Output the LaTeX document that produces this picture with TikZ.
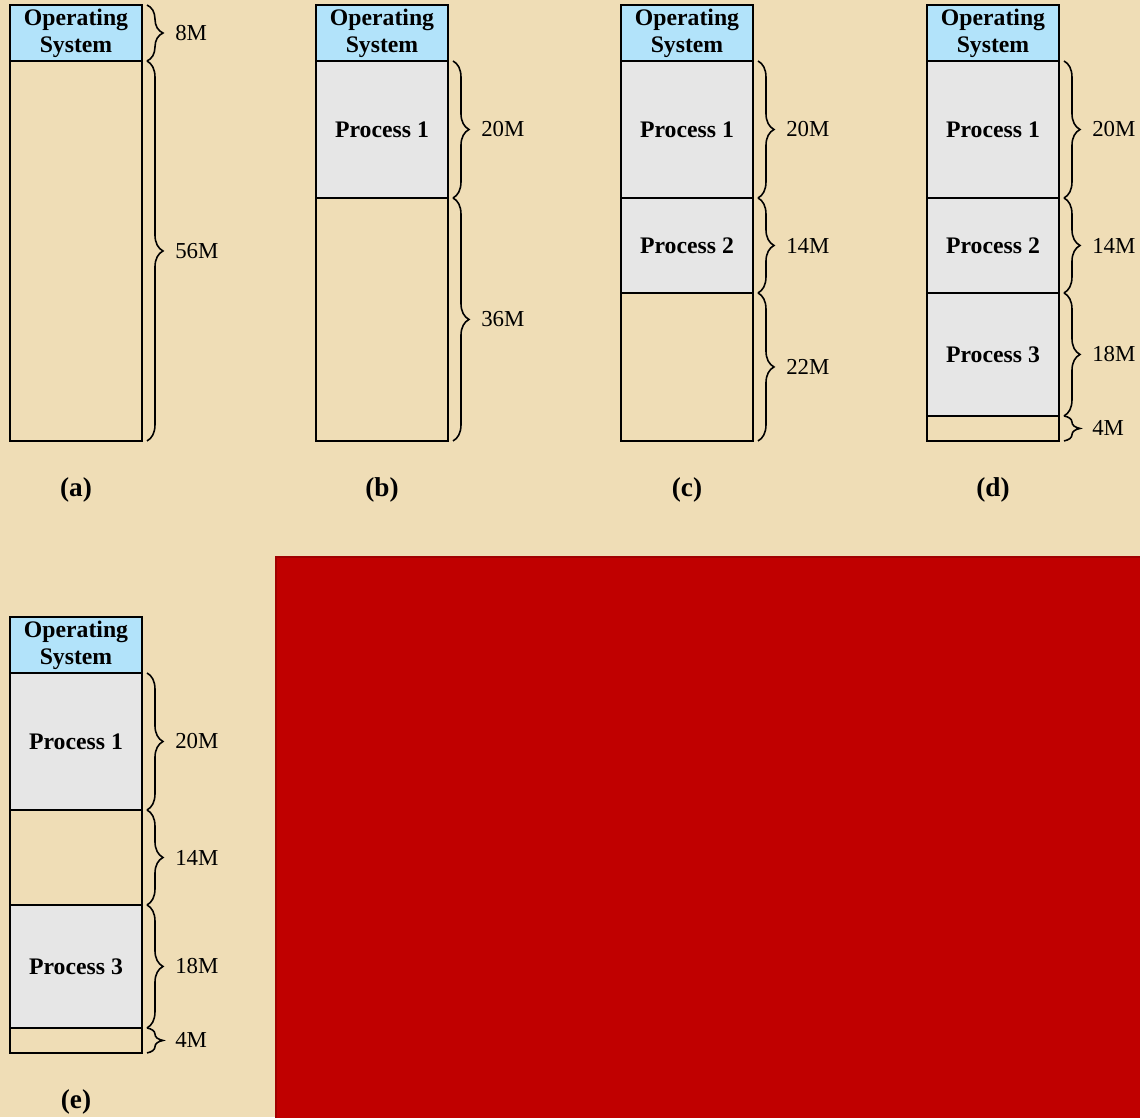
\documentclass[tikz,border=0pt]{standalone}
\usepackage{fontspec}
\setmainfont{Liberation Serif}
\usetikzlibrary{positioning, decorations.pathreplacing}
\definecolor{parchment}{RGB}{239,221,182}
\definecolor{osblue}{RGB}{178,227,250}
\definecolor{procgray}{RGB}{230,230,230}
\definecolor{blockred}{RGB}{192,0,0}
\definecolor{blockreddark}{RGB}{160,0,0}

\begin{document}
\begin{tikzpicture}[x=0.02cm, y=-0.02cm,
    region/.style={draw=black, line width=1.1pt, outer sep=0pt, inner sep=0pt,
                   minimum width=2.64cm, align=center,
                   font=\fontsize{13.5}{15.3}\selectfont\bfseries},
    osbox/.style={region, fill=osblue, minimum height=1.12cm},
    procbox/.style={region, fill=procgray},
    freebox/.style={region},
    brace/.style={decorate, decoration={brace, amplitude=0.32cm, raise=0.1cm},
                  line width=0.9pt},
    size/.style={right=0.65cm, inner sep=0pt, font=\fontsize{13}{14}\selectfont},
    caption/.style={font=\fontsize{15.5}{17}\selectfont\bfseries}]
    \useasboundingbox (0,0) rectangle (1140,1117);
    \fill[parchment] (0,0) rectangle (1140,1117);

    % (a)
    \node[osbox] (osa) at (76,33) {Operating\\System};
    \node[freebox, minimum height=7.6cm, below=0pt of osa] (freea) {};
    \draw[brace] (osa.north east) -- node[size] {8M} (osa.south east);
    \draw[brace] (freea.north east) -- node[size] {56M} (freea.south east);
    \node[caption] (capa) at (76,490) {(a)};

    % (b)
    \node[osbox] (osb) at (382,33) {Operating\\System};
    \node[procbox, minimum height=2.74cm, below=0pt of osb] (p1b) {Process 1};
    \node[freebox, minimum height=4.86cm, below=0pt of p1b] (freeb) {};
    \draw[brace] (p1b.north east) -- node[size] {20M} (p1b.south east);
    \draw[brace] (freeb.north east) -- node[size] {36M} (freeb.south east);
    \node[caption] (capb) at (382,490) {(b)};

    % (c)
    \node[osbox] (osc) at (687,33) {Operating\\System};
    \node[procbox, minimum height=2.74cm, below=0pt of osc] (p1c) {Process 1};
    \node[procbox, minimum height=1.9cm, below=0pt of p1c] (p2c) {Process 2};
    \node[freebox, minimum height=2.96cm, below=0pt of p2c] (freec) {};
    \draw[brace] (p1c.north east) -- node[size] {20M} (p1c.south east);
    \draw[brace] (p2c.north east) -- node[size] {14M} (p2c.south east);
    \draw[brace] (freec.north east) -- node[size] {22M} (freec.south east);
    \node[caption] (capc) at (687,490) {(c)};

    % (d)
    \node[osbox] (osd) at (993,33) {Operating\\System};
    \node[procbox, minimum height=2.74cm, below=0pt of osd] (p1d) {Process 1};
    \node[procbox, minimum height=1.9cm, below=0pt of p1d] (p2d) {Process 2};
    \node[procbox, minimum height=2.46cm, below=0pt of p2d] (p3d) {Process 3};
    \node[freebox, minimum height=0.5cm, below=0pt of p3d] (freed) {};
    \draw[brace] (p1d.north east) -- node[size] {20M} (p1d.south east);
    \draw[brace] (p2d.north east) -- node[size] {14M} (p2d.south east);
    \draw[brace] (p3d.north east) -- node[size] {18M} (p3d.south east);
    \draw[brace] (freed.north east) -- node[size] {4M} (freed.south east);
    \node[caption] (capd) at (993,490) {(d)};

    % (e)
    \node[osbox] (ose) at (76,645) {Operating\\System};
    \node[procbox, minimum height=2.74cm, below=0pt of ose] (p1e) {Process 1};
    \node[freebox, minimum height=1.9cm, below=0pt of p1e] (freee) {};
    \node[procbox, minimum height=2.46cm, below=0pt of freee] (p3e) {Process 3};
    \node[freebox, minimum height=0.5cm, below=0pt of p3e] (lowe) {};
    \draw[brace] (p1e.north east) -- node[size] {20M} (p1e.south east);
    \draw[brace] (freee.north east) -- node[size] {14M} (freee.south east);
    \draw[brace] (p3e.north east) -- node[size] {18M} (p3e.south east);
    \draw[brace] (lowe.north east) -- node[size] {4M} (lowe.south east);
    \node[caption] (cape) at (76,1102) {(e)};

    \filldraw[fill=blockred, draw=blockreddark, line width=0.8pt]
      (276,557) rectangle (1142,1119);
\end{tikzpicture}
\end{document}
